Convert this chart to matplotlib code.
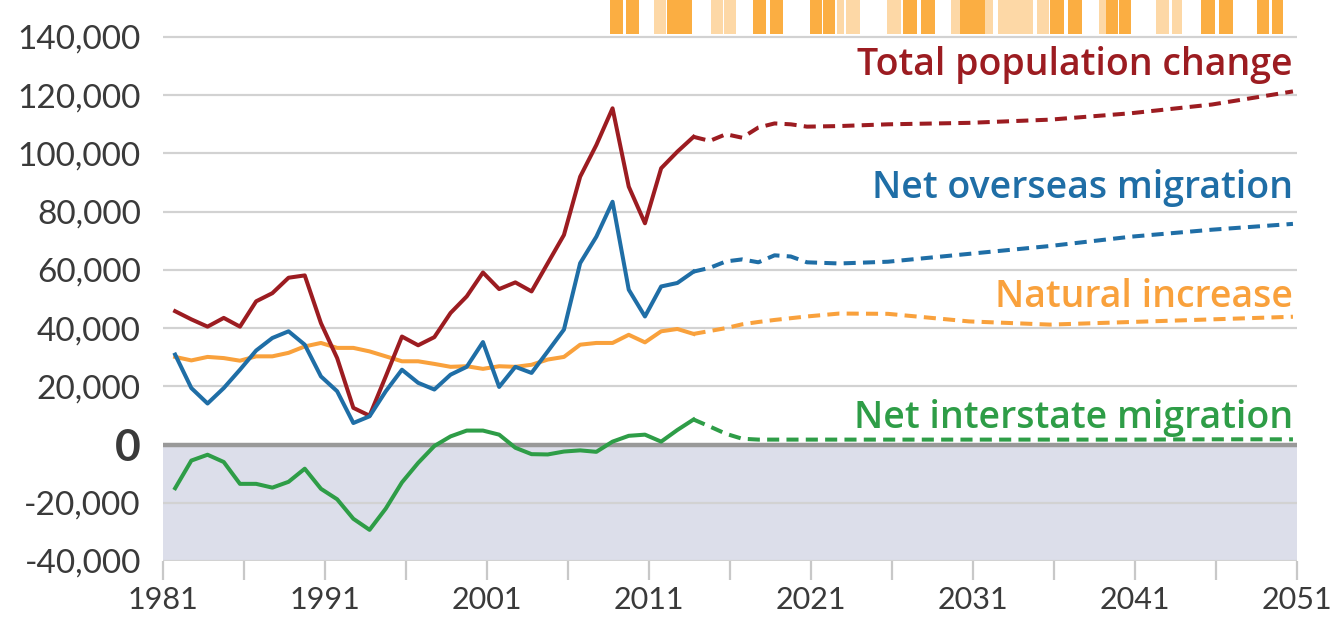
import numpy as np
import matplotlib
matplotlib.use("Agg")
import matplotlib.pyplot as plt

plt.rcParams['font.family'] = ['Lato', 'DejaVu Sans']

# historic series, points at mid financial year (1981.75 ... 2013.75)
hist_years = np.arange(1981.75, 2014.0, 1.0)
total_hist = [45800, 43000, 40500, 43500, 40500, 49200, 52000, 57300, 58100,
              41700, 29700, 12600, 9900, 23400, 37100, 34100, 36900, 45200,
              50900, 59100, 53400, 55700, 52600, 62300, 72000, 92000, 102900,
              115500, 88600, 76000, 94900, 100600, 105700]
overseas_hist = [30900, 19400, 14100, 19400, 25700, 32300, 36600, 38900, 34300,
                 23400, 18300, 7400, 9700, 18300, 25700, 21200, 18900, 24000,
                 26700, 35200, 19800, 26700, 24600, 32000, 39500, 62300, 71400,
                 83400, 53200, 44000, 54300, 55500, 59400]
natural_hist = [30100, 28900, 30100, 29700, 28800, 30300, 30300, 31500, 33700,
                34900, 33200, 33200, 32000, 30300, 28600, 28600, 27700, 26700,
                26900, 26000, 26900, 26700, 27400, 29200, 30100, 34300, 34900,
                34900, 37700, 35100, 38900, 39700, 38000]
interstate_hist = [-15000, -5500, -3500, -6000, -13500, -13500, -14800, -12800,
                   -8300, -15200, -18800, -25500, -29300, -22000, -13000, -6300,
                   -500, 2800, 4800, 4800, 3400, -1100, -3300, -3400, -2400,
                   -2000, -2500, 1000, 3000, 3400, 1000, 5000, 8600]

# projections
proj_years = [2013.75, 2014.75, 2015.75, 2016.75, 2017.75, 2018.75, 2019.75,
              2020.75, 2022.75, 2025.75, 2030.75, 2035.75, 2040.75, 2045.75, 2050.75]
total_proj = [105700, 104300, 106600, 105400, 108900, 110300, 110000, 109200,
              109400, 110000, 110500, 111600, 113800, 116800, 121300]
overseas_proj = [59400, 60700, 62900, 63600, 62600, 65000, 64600, 62600,
                 62200, 62800, 65500, 68200, 71400, 73800, 75800]
natural_proj = [38000, 39000, 40000, 41300, 42100, 42800, 43400, 44000,
                45000, 44900, 42300, 41200, 42100, 43000, 43900]
interstate_proj = [8600, 6200, 3700, 2000, 1700, 1700, 1700, 1700,
                   1700, 1700, 1700, 1700, 1700, 1800, 1800]

# strip of year blocks above the chart (cut off at the top)
strip_x = [2009.0, 2010.0, 2011.7, 2012.5, 2013.3, 2015.2, 2016.0, 2017.8,
           2018.9, 2021.3, 2022.1, 2022.8, 2023.6, 2026.1, 2027.1, 2028.2,
           2029.9, 2030.6, 2031.4, 2032.0, 2033.2, 2034.3, 2035.3, 2036.2,
           2037.3, 2039.0, 2039.6, 2040.4, 2042.7, 2043.6, 2045.5, 2046.6,
           2048.9, 2049.8]
strip_w = [0.85, 0.8, 0.75, 0.8, 0.75, 0.75, 0.7, 0.8, 0.8, 0.7, 0.75, 0.45,
           0.85, 0.85, 0.9, 0.85, 0.55, 0.75, 0.75, 0.5, 1.35, 0.75, 0.75, 0.85,
           0.85, 0.4, 0.75, 0.75, 0.75, 0.65, 0.85, 0.85, 0.75, 0.7]
strip_dark = [1, 1, 0, 1, 1, 0, 0, 1, 1, 1, 1, 0, 0, 0, 1, 1, 0, 1, 1, 0, 0, 0,
              0, 1, 1, 0, 1, 1, 0, 0, 1, 1, 1, 1]

yticks = [-40000, -20000, 0, 20000, 40000, 60000, 80000, 100000, 120000, 140000]
xlabels = [1981, 1991, 2001, 2011, 2021, 2031, 2041, 2051]

c_total = '#9c1c21'
c_over = '#1f6ea6'
c_nat = '#f9a13c'
c_inter = '#2e9d47'

fig = plt.figure(figsize=(13.33, 6.25), dpi=100)
ax = fig.add_axes([163/1333, 64/625, 1134/1333, 561/625])

ax.set_xlim(1981, 2051)
ax.set_ylim(-40000, 152700)

ax.axhspan(-40000, 0, color='#dcdeea', zorder=0)
for v in yticks:
    if v == 0:
        continue
    ax.axhline(v, color='#d2d2d2', lw=1.6, zorder=1)
ax.axhline(0, color='#999999', lw=3.2, zorder=2)

# year-block strip
ax.bar(strip_x, 12000, width=strip_w, bottom=141000, align='center',
       color=['#fbae42' if d else '#fdd8a6' for d in strip_dark],
       edgecolor='none', zorder=1, clip_on=True)

lw = 2.9
dash = (0, (3.0, 1.8))
ax.plot(hist_years, total_hist, color=c_total, lw=lw, zorder=5)
ax.plot(proj_years, total_proj, color=c_total, lw=lw, ls=dash, zorder=5)
ax.plot(hist_years, overseas_hist, color=c_over, lw=lw, zorder=5)
ax.plot(proj_years, overseas_proj, color=c_over, lw=lw, ls=dash, zorder=5)
ax.plot(hist_years, natural_hist, color=c_nat, lw=lw, zorder=4)
ax.plot(proj_years, natural_proj, color=c_nat, lw=lw, ls=dash, zorder=4)
ax.plot(hist_years, interstate_hist, color=c_inter, lw=lw, zorder=5)
ax.plot(proj_years, interstate_proj, color=c_inter, lw=lw, ls=dash, zorder=5)

lab_kw = dict(ha='right', va='baseline', fontsize=27, fontweight='semibold',
              family=['Open Sans', 'DejaVu Sans'], zorder=6)
ax.text(2050.75, 126900, 'Total population change', color=c_total, **lab_kw)
ax.text(2050.75, 84600, 'Net overseas migration', color=c_over, **lab_kw)
ax.text(2050.75, 47400, 'Natural increase', color=c_nat, **lab_kw)
ax.text(2050.75, 5700, 'Net interstate migration', color=c_inter, **lab_kw)

for s in ax.spines.values():
    s.set_visible(False)

ax.set_yticks(yticks)
ax.set_yticklabels(['{:,}'.format(v) for v in yticks])
ax.tick_params(axis='y', length=0, pad=16, labelsize=24, labelcolor='#3a3a3a')
for t in ax.get_yticklabels():
    if t.get_text() == '0':
        t.set_fontsize(32)
        t.set_fontweight('bold')

ax.set_xticks(np.arange(1981, 2052, 5), minor=True)
ax.set_xticks(xlabels)
ax.set_xticklabels([str(v) for v in xlabels])
ax.tick_params(axis='x', which='both', length=14, width=1.6, color='#c8c8c8',
               direction='out', pad=4, labelsize=22, labelcolor='#3a3a3a')

fig.savefig('out.png', dpi=100)
